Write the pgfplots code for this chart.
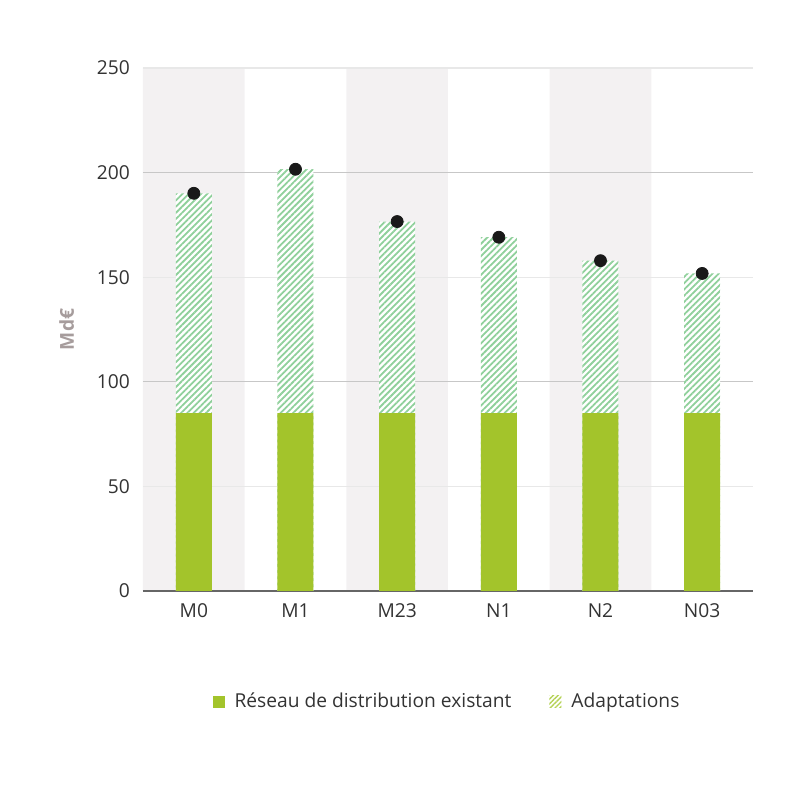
\documentclass[border=0pt]{standalone}
\usepackage{pgfplots}
\pgfplotsset{compat=1.18}
\usepackage{fontspec}
\setmainfont{Open Sans}
\usetikzlibrary{patterns.meta}
\definecolor{barg}{HTML}{A3C42B}
\definecolor{hatchg}{HTML}{8FD09B}
\definecolor{legh}{HTML}{B5D256}
\definecolor{band}{HTML}{F3F1F2}
\definecolor{txt}{HTML}{333333}
\definecolor{ylab}{HTML}{A69C9C}
\pgfplotstableread{
x base total
0 85 190.1
1 85 201.6
2 85 176.6
3 85 169.1
4 85 157.9
5 85 151.8
}\data
\begin{document}
\begin{tikzpicture}
\begin{axis}[
  set layers,
  scale only axis,
  width=305pt, height=261.5pt,
  xmin=-0.5, xmax=5.5,
  ymin=0, ymax=250,
  xtick={0,1,2,3,4,5},
  xticklabels={M0,M1,M23,N1,N2,N03},
  ytick={0,50,100,150,200,250},
  extra y ticks={100,200},
  extra y tick labels={},
  extra y tick style={grid style={draw=black!22, line width=0.6pt}},
  ymajorgrids,
  grid style={draw=black!9, line width=0.6pt},
  axis x line*=bottom,
  axis y line*=left,
  y axis line style={draw=none},
  x axis line style={draw=black!60, line width=0.9pt},
  major tick length=0pt,
  tick style={draw=none},
  /pgf/number format/assume math mode=true,
  ticklabel style={font=\fontsize{9.6}{11}\selectfont, text=txt},
  yticklabel style={xshift=-3pt},
  xticklabel style={yshift=-3pt},
  ylabel={\textbf{Md€}},
  every axis y label/.style={at={(axis description cs:-0.125,0.5)}, rotate=90, anchor=center, font=\fontsize{9.6}{11}\selectfont, text=ylab},
  legend style={at={(axis description cs:0.5,-0.212)}, anchor=center, draw=none, fill=none,
    legend columns=2, font=\fontsize{9.6}{11}\selectfont, text=txt,
    /tikz/every even column/.append style={column sep=17pt}},
  legend cell align=left,
]
\addplot[fill=band, draw=none, on layer=axis background, forget plot] coordinates {(-0.5,0)(-0.5,250)(0.5,250)(0.5,0)} \closedcycle;
\addplot[fill=band, draw=none, on layer=axis background, forget plot] coordinates {(1.5,0)(1.5,250)(2.5,250)(2.5,0)} \closedcycle;
\addplot[fill=band, draw=none, on layer=axis background, forget plot] coordinates {(3.5,0)(3.5,250)(4.5,250)(4.5,0)} \closedcycle;
\addlegendimage{legend image code/.code={
  \fill[barg, draw=none] (0pt,-3pt) rectangle (6pt,3pt);
  \path[draw=none, fill=none] (0pt,0pt) -- (9pt,0pt);}}
\addlegendentry{Réseau de distribution existant}
\addlegendimage{legend image code/.code={
  \path[draw=none, pattern={Lines[angle=45,distance=1.7pt,line width=0.7pt]}, pattern color=legh] (0pt,-3pt) rectangle (6pt,3pt);
  \path[draw=none, fill=none] (0pt,0pt) -- (9pt,0pt);}}
\addlegendentry{Adaptations}
\addplot[ybar, bar width=18pt, bar shift=0pt, draw=none, fill=white,
  postaction={pattern={Lines[angle=45,distance=2.2pt,line width=0.9pt]}, pattern color=hatchg}, forget plot]
  table[x=x, y=total] {\data};
\addplot[ybar, bar width=18pt, bar shift=0pt, draw=none, fill=barg, forget plot]
  table[x=x, y=base] {\data};
\addplot[only marks, mark=*, mark size=3pt, color=black!90, forget plot]
  table[x=x, y=total] {\data};
\end{axis}
\path (-71.5pt,-98pt) rectangle (328.5pt,295.5pt);
\end{tikzpicture}
\end{document}
